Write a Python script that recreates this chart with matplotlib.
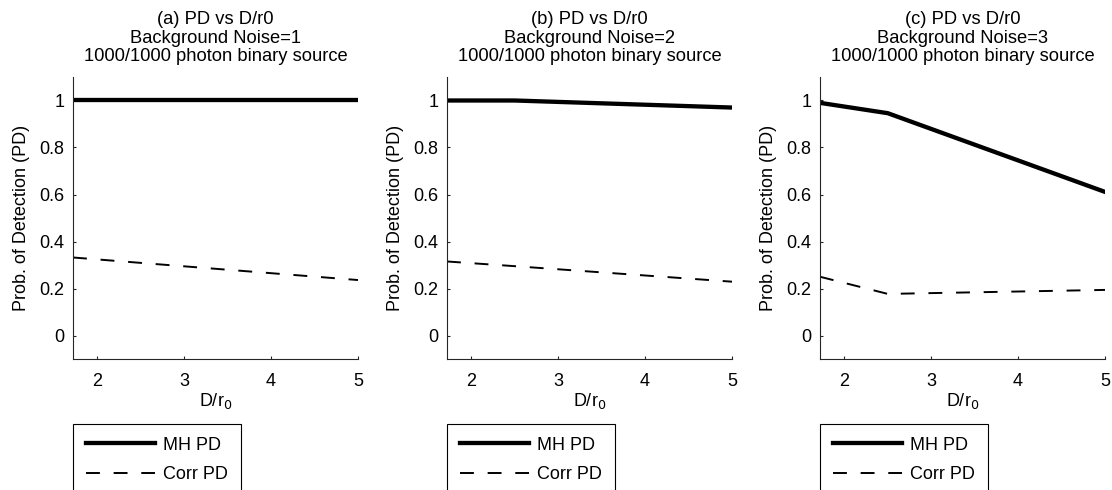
import matplotlib
matplotlib.use("Agg")
import matplotlib.pyplot as plt

plt.rcParams['font.family'] = ['Liberation Sans', 'DejaVu Sans']
plt.rcParams['lines.scale_dashes'] = False

# Data
x_vals = [1.72, 2.5, 5.0]
panel_titles = [
    "(a) PD vs D/r0\nBackground Noise=1\n1000/1000 photon binary source",
    "(b) PD vs D/r0\nBackground Noise=2\n1000/1000 photon binary source",
    "(c) PD vs D/r0\nBackground Noise=3\n1000/1000 photon binary source",
]
mh_pd = [
    [1.0, 1.0, 1.0],
    [1.0, 1.0, 0.97],
    [0.99, 0.946, 0.611],
]
corr_pd = [
    [0.332, 0.309, 0.236],
    [0.315, 0.295, 0.229],
    [0.25, 0.177, 0.194],
]
x_ticks = [2, 3, 4, 5]
y_ticks = [0, 0.2, 0.4, 0.6, 0.8, 1]
y_ticklabels = ["0", "0.2", "0.4", "0.6", "0.8", "1"]

W, H = 1112, 490
fig = plt.figure(figsize=(W / 100, H / 100), dpi=100)

lefts = [73, 447, 820]
ax_w = 285
ax_top, ax_bot = 77, 359
spine_col = (0.15, 0.15, 0.15)
legend_top = 424

for i in range(3):
    ax = fig.add_axes([lefts[i] / W, (H - ax_bot) / H, ax_w / W, (ax_bot - ax_top) / H])
    ax.plot(x_vals, mh_pd[i], color='black', lw=3.1, solid_joinstyle='miter', label='MH PD')
    ax.plot(x_vals, corr_pd[i], color='black', lw=1.4, dashes=(10, 9.9),
            dash_capstyle='butt', label='Corr PD')
    ax.set_xlim(1.72, 5)
    ax.set_ylim(-0.1, 1.1)
    ax.set_xticks(x_ticks)
    ax.set_xticklabels([str(t) for t in x_ticks])
    ax.set_yticks(y_ticks)
    ax.set_yticklabels(y_ticklabels)
    for s in ['top', 'right']:
        ax.spines[s].set_visible(False)
    for s in ['left', 'bottom']:
        ax.spines[s].set_color(spine_col)
        ax.spines[s].set_linewidth(0.8)
    ax.tick_params(direction='in', length=2.5, width=0.8, color=spine_col,
                   labelsize=13, labelcolor='black')
    ax.tick_params(axis='x', pad=10)
    ax.tick_params(axis='y', pad=6)
    ax.set_title(panel_titles[i], fontsize=13.2, linespacing=1.11, pad=11.5)
    ax.set_ylabel("Prob. of Detection (PD)", fontsize=13, labelpad=7)
    ax.set_xlabel("D/r$_0$", fontsize=13, labelpad=1)
    leg = ax.legend(loc='upper left',
                    bbox_to_anchor=(0.0, (ax_bot - legend_top) / (ax_bot - ax_top)),
                    fontsize=13, handlelength=3.85, handletextpad=0.45,
                    borderpad=0.7, labelspacing=0.68, borderaxespad=0.0,
                    fancybox=False, framealpha=1, edgecolor='black')
    leg.get_frame().set_linewidth(0.8)

fig.savefig("out.png", dpi=100)
